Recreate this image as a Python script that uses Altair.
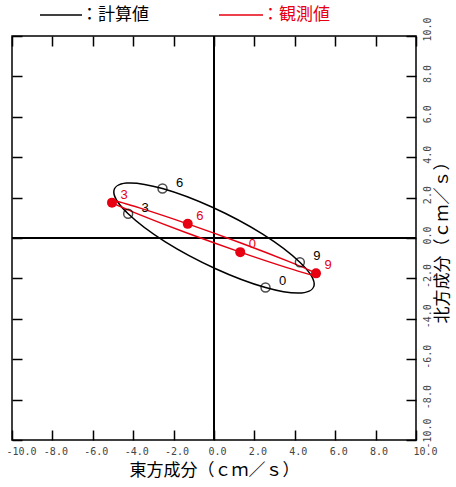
import altair as alt
import pandas as pd

# Hourly current vectors over one tidal cycle (cm/s)
hours = list(range(12))
calc_east = [2.55, 0.08, -2.41, -4.25, -4.96, -4.33, -2.55, -0.08, 2.41, 4.25, 4.96, 4.33]
calc_north = [-2.45, -1.52, -0.19, 1.20, 2.26, 2.72, 2.45, 1.52, 0.19, -1.20, -2.26, -2.72]
obs_east = [1.30, -1.40, -3.72, -5.05, -5.02, -3.65, -1.30, 1.40, 3.72, 5.05, 5.02, 3.65]
obs_north = [-0.70, 0.27, 1.17, 1.75, 1.87, 1.48, 0.70, -0.27, -1.17, -1.75, -1.87, -1.48]
marked_hours = [0, 3, 6, 9]
tick_values = [-10, -8, -6, -4, -2, 0, 2, 4, 6, 8, 10]

RED = "#e60012"
CJK = "Noto Sans CJK JP"
MONO = "DejaVu Sans Mono"

calc = pd.DataFrame({"hour": hours, "east": calc_east, "north": calc_north})
obs = pd.DataFrame({"hour": hours, "east": obs_east, "north": obs_north})
calc_marked = calc[calc["hour"].isin(marked_hours)]
obs_marked = obs[obs["hour"].isin(marked_hours)]

scale = alt.Scale(domain=[-10, 10], nice=False, zero=False)
label_expr = "(datum.value < 0 ? '-' : '') + format(abs(datum.value), '.1f')"

common_axis = dict(
    values=tick_values, domain=False, grid=False, tickColor="black",
    tickWidth=1.5, tickSize=10, offset=-10,
)

x_bottom = alt.Axis(
    orient="bottom", title="東方成分（ｃｍ／ｓ）", titleFont=CJK, titleFontSize=17,
    titleFontWeight="normal", titleColor="black", titlePadding=6,
    labelFont=MONO, labelFontSize=10, labelColor="#444", labelPadding=6,
    labelOffset={"condition": {"test": "abs(datum.value) == 10", "value": 9}, "value": 3},
    labelExpr=label_expr, labelOverlap=False, labelFlush=False, labelBound=False,
    **common_axis,
)
y_right = alt.Axis(
    orient="right", title="北方成分（ｃｍ／ｓ）", titleFont=CJK, titleFontSize=17,
    titleFontWeight="normal", titleColor="black", titleAngle=270,
    titleBaseline="top", titlePadding=2,
    labelFont=MONO, labelFontSize=10, labelColor="#444", labelPadding=6,
    labelAngle=270, labelAlign="center", labelBaseline="top",
    labelOffset={"condition": {"test": "abs(datum.value) == 10", "value": -7}, "value": -3},
    labelExpr=label_expr, labelOverlap=False, labelFlush=False, labelBound=False,
    **common_axis,
)
x_top = alt.Axis(orient="top", title=None, labels=False, **common_axis)
y_left = alt.Axis(orient="left", title=None, labels=False, **common_axis)

# Zero lines through the origin
zero_v = alt.Chart(calc).mark_rule(color="black", strokeWidth=1.5).encode(
    x=alt.datum(0, scale=scale, axis=x_top)
)
zero_h = alt.Chart(calc).mark_rule(color="black", strokeWidth=1.5).encode(
    y=alt.datum(0, scale=scale, axis=y_left)
)

# Current ellipses
calc_line = alt.Chart(calc).mark_line(
    color="black", strokeWidth=1.5, interpolate="cardinal-closed"
).encode(
    x=alt.X("east:Q", scale=scale, axis=x_bottom),
    y=alt.Y("north:Q", scale=scale, axis=y_right),
    order="hour:Q",
)
obs_line = alt.Chart(obs).mark_line(
    color=RED, strokeWidth=1.5, interpolate="cardinal-closed"
).encode(
    x=alt.X("east:Q", scale=scale, axis=None),
    y=alt.Y("north:Q", scale=scale, axis=None),
    order="hour:Q",
)

calc_pts = alt.Chart(calc_marked).mark_point(
    shape="circle", filled=False, color="black", strokeWidth=1.5, size=80
).encode(
    x=alt.X("east:Q", scale=scale, axis=None),
    y=alt.Y("north:Q", scale=scale, axis=None),
)
obs_pts = alt.Chart(obs_marked).mark_point(
    shape="circle", filled=True, color=RED, opacity=1, size=100
).encode(
    x=alt.X("east:Q", scale=scale, axis=None),
    y=alt.Y("north:Q", scale=scale, axis=None),
)

calc_txt = alt.Chart(calc_marked).mark_text(
    color="black", fontSize=13, font="Liberation Sans", dx=17, dy=-6
).encode(
    x=alt.X("east:Q", scale=scale, axis=None),
    y=alt.Y("north:Q", scale=scale, axis=None),
    text="hour:N",
)
obs_txt = alt.Chart(obs_marked).mark_text(
    color=RED, fontSize=13, font="Liberation Sans", dx=12, dy=-8
).encode(
    x=alt.X("east:Q", scale=scale, axis=None),
    y=alt.Y("north:Q", scale=scale, axis=None),
    text="hour:N",
)

# Key above the frame
key = pd.DataFrame({"k": [0]})
key_calc_line = alt.Chart(key).mark_rule(color="black", strokeWidth=1.5).encode(
    x=alt.value(28), x2=alt.value(70), y=alt.value(-21)
)
key_obs_line = alt.Chart(key).mark_rule(color=RED, strokeWidth=1.5).encode(
    x=alt.value(207), x2=alt.value(251), y=alt.value(-21)
)
key_calc_txt = alt.Chart(key).mark_text(
    text="：計算値", font=CJK, fontSize=17, align="left", baseline="middle", color="black"
).encode(x=alt.value(69), y=alt.value(-21))
key_obs_txt = alt.Chart(key).mark_text(
    text="：観測値", font=CJK, fontSize=17, align="left", baseline="middle", color=RED
).encode(x=alt.value(250), y=alt.value(-21))

chart = alt.layer(
    zero_v, zero_h, calc_line, obs_line, calc_pts, obs_pts, calc_txt, obs_txt,
    key_calc_line, key_obs_line, key_calc_txt, key_obs_txt,
).resolve_axis(
    x="independent", y="independent"
).properties(
    width=404, height=404,
    autosize=alt.AutoSizeParams(type="none"),
    padding={"left": 12, "top": 36, "right": 40, "bottom": 47},
).configure_view(
    stroke="black", strokeWidth=1.5
)

chart.save("out.html", embed_options={"renderer": "svg", "actions": False})
